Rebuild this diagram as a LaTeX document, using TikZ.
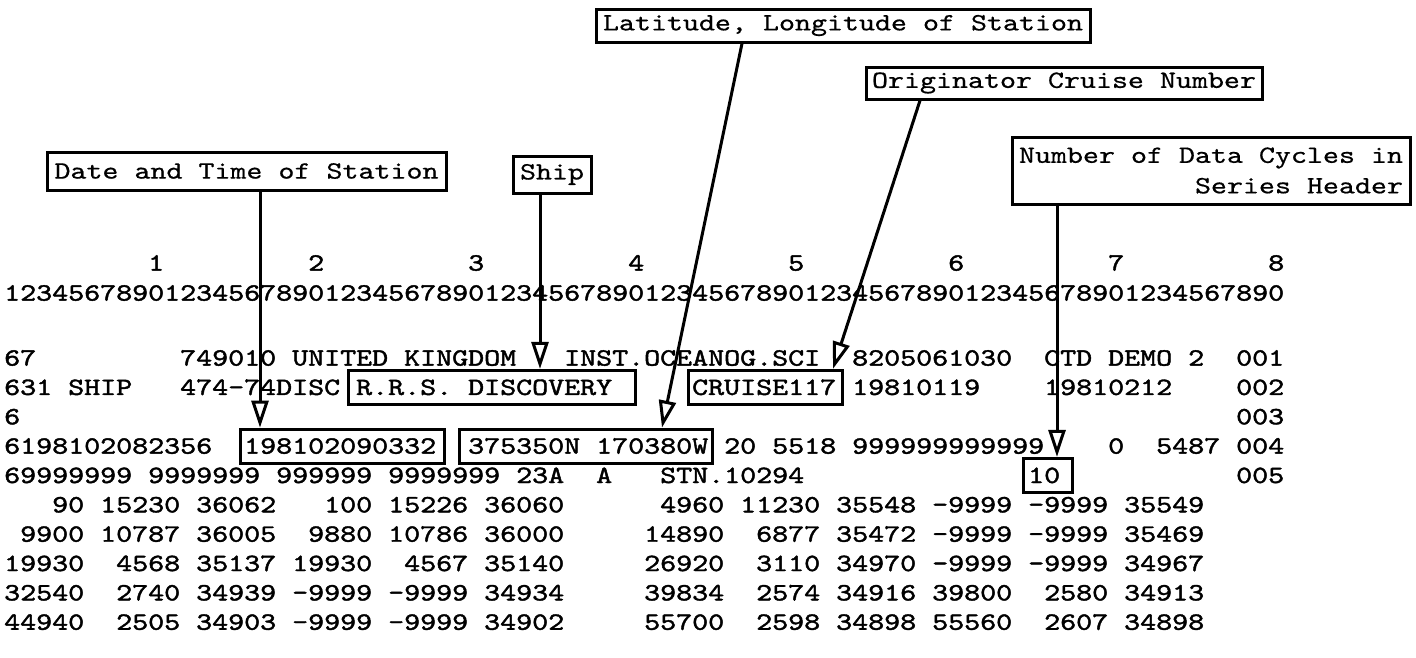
\documentclass[tikz,border=0pt]{standalone}
\usepackage{fontspec}
\usepackage{graphicx}
\usetikzlibrary{arrows.meta}
\newfontfamily\dataff{lmmono10-regular.otf}[FakeBold=1.5]
\newfontfamily\lblff{lmmono10-regular.otf}[FakeBold=0.5]
\newlength\cw
\newcommand\dfont{\fontsize{27pt}{30.5pt}\selectfont\dataff\spaceskip=\cw\xspaceskip=\cw\relax}
\newcommand\lfont{\fontsize{27pt}{30.5pt}\selectfont\lblff\spaceskip=\cw\xspaceskip=\cw\relax}
\newcommand\sq[1]{\scalebox{\xs}[0.92]{#1}}
\newcommand\SP[1]{\kern#1\cw\relax}
\newcommand\rowb[1]{(365.6+29.35*(#1-1))}
\newcommand\rowc[1]{(358+29.35*(#1-1))}
\newcommand\colx[1]{(4+16*(#1-1))}
\begin{document}
\settowidth\cw{\fontsize{27pt}{30.5pt}\selectfont\lblff 0}%
\pgfmathsetmacro\xs{16/\cw}%
\begin{tikzpicture}[x=1pt,y=-1pt,
  fld/.style={anchor=base west,inner sep=0pt,font=\dfont},
  lbl/.style={draw,line width=3pt,inner sep=0pt,font=\lfont},
  dbox/.style={draw,line width=3pt,inner sep=0pt},
  conn/.style={line width=3pt,-{Triangle[width=17pt,length=27pt,fill=white]}}]
\fill[white] (0,0) rectangle (1416,657);
\useasboundingbox (0,0) rectangle (1416,657);
% column numbers and ruler
\foreach \i in {1,...,8}{\node[fld] (num\i) at ({4+16*(10*\i-1)},270.6) {\sq{\i}};}
\node[fld] (ruler) at ({\colx{1}},300.6) {\sq{12345678901234567890123456789012345678901234567890123456789012345678901234567890}};
% data rows
\node[fld] (row1) at ({\colx{1}},{\rowb{1}}) {\sq{67\SP{9}749010 UNITED KINGDOM\SP{3}INST.OCEANOG.SCI\SP{2}8205061030\SP{2}CTD DEMO 2\SP{2}001}};
\node[fld] (row2) at ({\colx{1}},{\rowb{2}}) {\sq{631 SHIP\SP{3}474-74DISC R.R.S. DISCOVERY\SP{5}CRUISE117 19810119\SP{4}19810212\SP{4}002}};
\node[fld] (row3) at ({\colx{1}},{\rowb{3}}) {\sq{6\SP{76}003}};
\node[fld] (row4) at ({\colx{1}},{\rowb{4}}) {\sq{6198102082356\SP{2}198102090332\SP{2}375350N 170380W 20 5518 999999999999\SP{4}0\SP{2}5487 004}};
\node[fld] (row5) at ({\colx{1}},{\rowb{5}}) {\sq{69999999 9999999 999999 9999999 23A\SP{2}A\SP{3}STN.10294\SP{14}10\SP{11}005}};
\node[fld] (row6) at ({\colx{1}},{\rowb{6}}) {\sq{\SP{3}90 15230 36062\SP{3}100 15226 36060\SP{6}4960 11230 35548 -9999 -9999 35549}};
\node[fld] (row7) at ({\colx{1}},{\rowb{7}}) {\sq{\SP{1}9900 10787 36005\SP{2}9880 10786 36000\SP{5}14890\SP{2}6877 35472 -9999 -9999 35469}};
\node[fld] (row8) at ({\colx{1}},{\rowb{8}}) {\sq{19930\SP{2}4568 35137 19930\SP{2}4567 35140\SP{5}26920\SP{2}3110 34970 -9999 -9999 34967}};
\node[fld] (row9) at ({\colx{1}},{\rowb{9}}) {\sq{32540\SP{2}2740 34939 -9999 -9999 34934\SP{5}39834\SP{2}2574 34916 39800\SP{2}2580 34913}};
\node[fld] (row10) at ({\colx{1}},{\rowb{10}}) {\sq{44940\SP{2}2505 34903 -9999 -9999 34902\SP{5}55700\SP{2}2598 34898 55560\SP{2}2607 34898}};
% boxed fields
\node[dbox,minimum width=204,minimum height=34] (dtbox) at (342,{\rowc{4}}) {};
\node[dbox,minimum width=287,minimum height=34] (rrsbox) at (491.5,{\rowc{2}}) {};
\node[dbox,minimum width=253,minimum height=34] (latbox) at (585.5,{\rowc{4}}) {};
\node[dbox,minimum width=154,minimum height=34] (crbox) at (765,{\rowc{2}}) {};
\node[dbox,minimum width=49,minimum height=34] (tenbox) at (1047.5,{\rowc{5}}) {};
% labels
\node[lbl,minimum width=399,minimum height=38] (dlabel) at (246.5,171) {\sq{Date and Time of Station}};
\node[lbl,minimum width=78,minimum height=37] (slabel) at (552,174.5) {\sq{Ship}};
\node[lbl,minimum width=494,minimum height=33] (latlabel) at (843,25.5) {\sq{Latitude, Longitude of Station}};
\node[lbl,minimum width=396,minimum height=32] (olabel) at (1064,83) {\sq{Originator Cruise Number}};
\node[lbl,minimum width=398,minimum height=67,align=right] (nlabel) at (1211,170.5) {\sq{Number of Data Cycles in}\\\sq{Series Header}};
% connectors
\draw[conn] ([xshift=13.5]dlabel.south) -- ([xshift=-82]dtbox.north);
\draw[conn] ([xshift=-12]slabel.south) -- ([xshift=48.5]rrsbox.north);
\draw[conn] ([xshift=-101]latlabel.south) -- ([xshift=76.5]latbox.north);
\draw[conn] ([xshift=-144]olabel.south) -- ([xshift=68]crbox.north);
\draw[conn] ([xshift=-154]nlabel.south) -- ([xshift=9.5]tenbox.north);
\end{tikzpicture}
\end{document}
